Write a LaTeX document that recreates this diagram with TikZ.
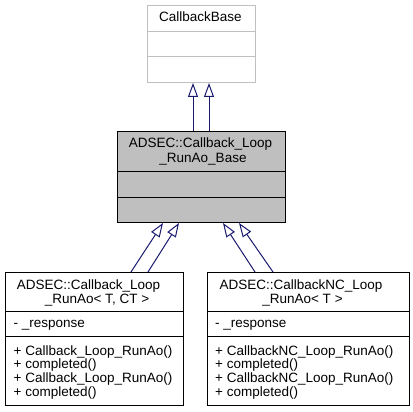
\documentclass[tikz,border=0pt]{standalone}
\usepackage{fontspec}
\setmainfont{Liberation Sans}
\usetikzlibrary{arrows.meta,calc}
\definecolor{edgeblue}{HTML}{191970}
\definecolor{boxgray}{HTML}{BFBFBF}
\definecolor{lightborder}{HTML}{C0C0C0}
\begin{document}
\begin{tikzpicture}[x=1pt,y=-1pt,
  box/.style={draw=black, line width=1pt, inner sep=0pt, anchor=north west},
  txt/.style={inner sep=0pt, font=\fontsize{13.5}{13.7}\selectfont, anchor=base},
  ltxt/.style={txt, anchor=base west},
  inh/.style={draw=edgeblue, line width=1pt, -{Triangle[open,length=14pt,width=10pt,fill=white]}}]
\useasboundingbox (0,0) rectangle (413,412);
% top box
\node[box, draw=lightborder, minimum width=108pt, minimum height=77pt] (base) at (147,5) {};
\draw[lightborder, line width=1pt] ($(base.north west)+(0,27)$) -- ($(base.north east)+(0,27)$);
\draw[lightborder, line width=1pt] ($(base.north west)+(0,52)$) -- ($(base.north east)+(0,52)$);
\node[txt] (basetitle) at (200.5,21.5) {CallbackBase};
% middle box
\node[box, fill=boxgray, minimum width=168pt, minimum height=91pt] (mid) at (117,131) {};
\draw[line width=1pt] ($(mid.north west)+(0,41)$) -- ($(mid.north east)+(0,41)$);
\draw[line width=1pt] ($(mid.north west)+(0,66)$) -- ($(mid.north east)+(0,66)$);
\node[txt] (midtitlea) at (200.5,148) {ADSEC::Callback\_Loop};
\node[txt] (midtitleb) at (203,162) {\_RunAo\_Base};
% bottom left
\node[box, fill=white, minimum width=178pt, minimum height=133pt] (left) at (5,272) {};
\draw[line width=1pt] ($(left.north west)+(0,39)$) -- ($(left.north east)+(0,39)$);
\draw[line width=1pt] ($(left.north west)+(0,64)$) -- ($(left.north east)+(0,64)$);
\node[txt] (lefttitlea) at (88.5,289) {ADSEC::Callback\_Loop};
\node[txt] (lefttitleb) at (97,303) {\_RunAo< T, CT >};
\node[ltxt] (leftattr) at (13.5,327) {- \_response};
\node[ltxt] (leftopa) at (13.5,355) {+ Callback\_Loop\_RunAo()};
\node[ltxt] (leftopb) at (13.5,368.7) {+ completed()};
\node[ltxt] (leftopc) at (13.5,382.4) {+ Callback\_Loop\_RunAo()};
\node[ltxt] (leftopd) at (13.5,396.1) {+ completed()};
% bottom right
\node[box, fill=white, minimum width=202pt, minimum height=133pt] (right) at (207,272) {};
\draw[line width=1pt] ($(right.north west)+(0,39)$) -- ($(right.north east)+(0,39)$);
\draw[line width=1pt] ($(right.north west)+(0,64)$) -- ($(right.north east)+(0,64)$);
\node[txt] (righttitlea) at (301,289) {ADSEC::CallbackNC\_Loop};
\node[txt] (righttitleb) at (302.5,303) {\_RunAo< T >};
\node[ltxt] (rightattr) at (215,327) {- \_response};
\node[ltxt] (rightopa) at (215,355) {+ CallbackNC\_Loop\_RunAo()};
\node[ltxt] (rightopb) at (215,368.7) {+ completed()};
\node[ltxt] (rightopc) at (215,382.4) {+ CallbackNC\_Loop\_RunAo()};
\node[ltxt] (rightopd) at (215,396.1) {+ completed()};
% connector ends
\coordinate (ta) at ($(base.south west)+(46,0)$);
\coordinate (tb) at ($(base.south west)+(62,0)$);
\coordinate (sa) at ($(mid.north west)+(76,0)$);
\coordinate (sb) at ($(mid.north west)+(92,0)$);
\coordinate (la) at ($(mid.south west)+(46,0)$);
\coordinate (lb) at ($(mid.south west)+(62,0)$);
\coordinate (lsa) at ($(left.north west)+(126,0)$);
\coordinate (lsb) at ($(left.north west)+(143,0)$);
\coordinate (ra) at ($(mid.south west)+(106,0)$);
\coordinate (rb) at ($(mid.south west)+(122,0)$);
\coordinate (rsa) at ($(right.north west)+(48,0)$);
\coordinate (rsb) at ($(right.north west)+(66,0)$);
\draw[inh] (sa) -- (ta);
\draw[inh] (sb) -- (tb);
\draw[inh] (lsa) -- (la);
\draw[inh] (lsb) -- (lb);
\draw[inh] (rsa) -- (ra);
\draw[inh] (rsb) -- (rb);
\end{tikzpicture}
\end{document}
